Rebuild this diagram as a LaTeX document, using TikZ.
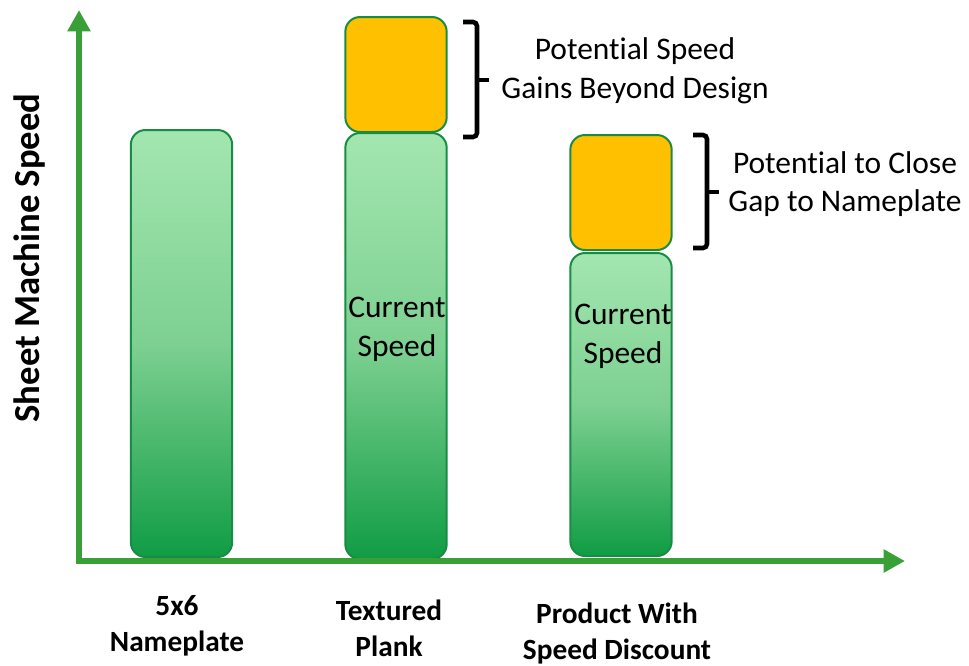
\documentclass[tikz,border=0pt]{standalone}
\usepackage{fontspec}
\setmainfont[Ligatures=NoCommon]{Carlito}
\usetikzlibrary{arrows.meta}

\definecolor{axisgreen}{RGB}{57,160,55}
\definecolor{barline}{RGB}{24,140,68}
\definecolor{bartop}{RGB}{163,230,176}
\definecolor{barmid}{RGB}{125,208,145}
\definecolor{barbottom}{RGB}{16,156,68}
\definecolor{gainorange}{RGB}{255,192,0}

\tikzset{
    bar/.style={draw=barline, line width=1.5pt, rounded corners=11pt,
        minimum width=76pt, inner sep=0pt, outer sep=0pt,
        top color=bartop, bottom color=barbottom, middle color=barmid},
    gain/.style={draw=barline, line width=1.5pt, rounded corners=11pt,
        minimum width=76pt, minimum height=86.25pt, inner sep=0pt,
        outer sep=0pt, fill=gainorange},
    axis/.style={axisgreen, line width=4.5pt, line cap=rect,
        -{Triangle[width=16.5pt,length=16pt]}},
    bracket/.style={line width=3.4pt, rounded corners=3pt},
    note/.style={font=\fontsize{23.6}{29}\selectfont, align=center},
    cat/.style={font=\bfseries\fontsize{22}{27}\selectfont, align=center}
}

\begin{document}
\begin{tikzpicture}[x=0.75pt, y=-0.75pt]
            \useasboundingbox (0,0) rectangle (969,665);

            % Staplar (bars)
            \node[bar, minimum height=320.25pt] (nameplate) at (181.5,343.5) {};
            \node[bar, minimum height=319.5pt] (plank) at (396,346) {};
            \node[gain] (plankgain) at (396,74.5) {};
            \node[bar, minimum height=227.25pt] (discount) at (621,404.5) {};
            \node[gain] (discountgain) at (621,192.5) {};

            % Axlar (axes)
            \coordinate (origin) at (79,561);
            \coordinate (ytip) at (79,10);
            \coordinate (xtip) at (905,561);
            \draw[axis] (origin) -- (ytip);
            \draw[axis] (origin) -- (xtip);
            \node[rotate=90, font=\bfseries\fontsize{27.5}{32}\selectfont] (ylabel) at (30,258) {Sheet Machine Speed};

            % Klamrar (brackets)
            \foreach \xa/\ya/\yb/\ym in {463/22/137/80, 693/135/248/192} {
                    \draw[bracket] (\xa,\ya) -- (\xa+14,\ya) -- (\xa+14,\yb) -- (\xa,\yb);
                    \draw[bracket] (\xa+14,\ym) -- (\xa+26,\ym);
                }
            \node[note] (gaintext) at (635,71) {Potential Speed\\Gains Beyond Design};
            \node[note] (gaptext) at (845,184) {Potential to Close\\Gap to Nameplate};

            % Texter i staplarna
            \node[note] (plankspeed) at (397,329) {Current\\Speed};
            \node[note] (discountspeed) at (623,336) {Current\\Speed};

            % Kategorier under x-axeln
            \node[cat] (cat1) at (177,626) {5x6\\Nameplate};
            \node[cat] (cat2) at (389,628) {Textured\\Plank};
            \node[cat] (cat3) at (617,633) {Product With\\Speed Discount};
        \end{tikzpicture}
\end{document}
